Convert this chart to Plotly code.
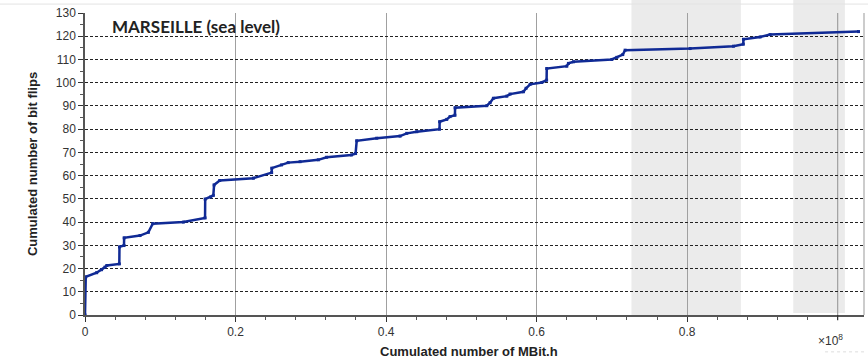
import plotly.graph_objects as go

# Cumulated MBit.h (in units of 1e8) and cumulated number of bit flips
mbit_h_e8 = [0.0, 0.001, 0.0155, 0.022, 0.0266, 0.029, 0.0456, 0.0458, 0.0518, 0.0520,
             0.0731, 0.0842, 0.090, 0.1307, 0.1595, 0.1597, 0.167, 0.1705, 0.1715, 0.179,
             0.2237, 0.248, 0.2482, 0.261, 0.270, 0.2857, 0.31, 0.321, 0.354, 0.3595,
             0.361, 0.3876, 0.4186, 0.4275, 0.4408, 0.471, 0.4712, 0.4806, 0.485, 0.4915,
             0.4917, 0.5338, 0.5382, 0.5426, 0.5604, 0.5648, 0.5825, 0.586, 0.5914, 0.6069,
             0.6133, 0.6135, 0.6401, 0.6423, 0.649, 0.6999, 0.7066, 0.7145, 0.7176, 0.804,
             0.8615, 0.8746, 0.8748, 0.897, 0.9103, 1.0277]
bit_flips = [0, 16.4, 18.2, 19.5, 20.6, 21.3, 22, 29.3, 29.9, 33.2,
             34.2, 35.6, 39.3, 40, 41.8, 49.9, 50.8, 51.5, 56, 57.9,
             58.9, 61.3, 63.2, 64.6, 65.6, 66, 66.8, 67.9, 68.9, 69.5,
             75, 76.1, 77, 78.2, 78.9, 80, 83.2, 84.2, 85.4, 86,
             89.2, 90.1, 91.4, 93.3, 94.2, 95.1, 96.1, 97.6, 99.3, 100.1,
             101.1, 106.1, 107.1, 108.3, 109, 110, 110.9, 112.1, 114, 114.7,
             115.7, 116.6, 118.7, 119.7, 120.7, 122]

# shaded periods (x in 1e8 units)
band_starts = [0.726, 0.941]
band_ends = [0.8714, 1.0096]

x_tickvals = [0, 0.2, 0.4, 0.6, 0.8]
x_ticktext = ["0", "0.2", "0.4", "0.6", "0.8"]
x_unlabeled_major = 1.0

LINE = "#102a95"

fig = go.Figure()
fig.add_trace(go.Scatter(
    x=mbit_h_e8, y=bit_flips, mode="lines+markers",
    line=dict(color=LINE, width=2.5),
    marker=dict(color=LINE, size=3, symbol="square"),
    showlegend=False, hoverinfo="skip"))

shapes = []
for i, (a, b) in enumerate(zip(band_starts, band_ends)):
    shapes.append(dict(type="rect", xref="x", yref="paper", x0=a, x1=b,
                       y0=0 if i == 0 else 0.007, y1=1.045,
                       fillcolor="#ebebeb", line=dict(width=0), layer="below"))
# unlabeled major gridline + tick at 1.0
shapes.append(dict(type="line", xref="x", yref="paper", x0=x_unlabeled_major, x1=x_unlabeled_major,
                   y0=0, y1=1, line=dict(color="#a0a0a0", width=1.2), layer="below"))
shapes.append(dict(type="line", xref="x", yref="paper", x0=x_unlabeled_major, x1=x_unlabeled_major,
                   y0=-0.017, y1=0, line=dict(color="#333333", width=1.2)))
# right border
shapes.append(dict(type="line", xref="paper", yref="paper", x0=1, x1=1, y0=0, y1=1,
                   line=dict(color="#aaaaaa", width=1.2)))
# faint top line of the page
shapes.append(dict(type="line", xref="paper", yref="paper", x0=-0.2, x1=1.01,
                   y0=1.0295, y1=1.0295, line=dict(color="#e3e3e3", width=1)))
# faint dotted line under the exponent
shapes.append(dict(type="line", xref="paper", yref="paper", x0=0.95, x1=1.0,
                   y0=-0.122, y1=-0.122, line=dict(color="#dddddd", width=1, dash="dot")))

fig.update_layout(
    width=868, height=363,
    margin=dict(l=85, r=4, t=13, b=48),
    paper_bgcolor="white", plot_bgcolor="rgba(0,0,0,0)",
    font=dict(family="Arial, Liberation Sans", size=12, color="#333333"),
    shapes=shapes,
    xaxis=dict(range=[0, 1.035], tickvals=x_tickvals, ticktext=x_ticktext,
               ticks="outside", ticklen=5, tickwidth=1.2, tickcolor="#333333",
               showgrid=True, gridcolor="#a0a0a0", gridwidth=1.2,
               showline=True, linecolor="#555555", linewidth=1.5,
               zeroline=False, tickfont=dict(size=12, color="#333333"),
               minor=dict(dtick=0.04, tick0=0, ticks="outside", ticklen=3,
                          tickcolor="#555555", showgrid=False)),
    yaxis=dict(range=[0, 130], dtick=10, tick0=0,
               ticks="outside", ticklen=5, tickwidth=1.2, tickcolor="#333333",
               showgrid=True, gridcolor="#222222", gridwidth=1, griddash="3px,2px",
               showline=True, linecolor="#555555", linewidth=1.5,
               zeroline=False, tickfont=dict(size=12, color="#333333"),
               minor=dict(dtick=5, tick0=0, ticks="outside", ticklen=3,
                          tickcolor="#555555", showgrid=False)),
    annotations=[
        dict(text="<b>MARSEILLE (sea level)</b>", xref="paper", yref="paper",
             x=0.142, y=0.955, xanchor="center", yanchor="middle", showarrow=False,
             font=dict(family="Lato, Open Sans", size=17, color="#222222")),
        dict(text="<b>Cumulated number of bit flips</b>", xref="paper", yref="paper",
             x=-0.068, y=0.5, xanchor="center", yanchor="middle", textangle=-90,
             showarrow=False, font=dict(family="Arial, Liberation Sans", size=13, color="#222222")),
        dict(text="<b>Cumulated number of MBit.h</b>", xref="paper", yref="paper",
             x=0.493, y=-0.12, xanchor="center", yanchor="middle", showarrow=False,
             font=dict(family="Arial, Liberation Sans", size=13, color="#222222")),
        dict(text="×10<sup>8</sup>", xref="paper", yref="paper",
             x=0.957, y=-0.083, xanchor="center", yanchor="middle", showarrow=False,
             font=dict(family="Arial, Liberation Sans", size=12, color="#333333")),
    ],
)

fig.write_html("out.html", config={"displayModeBar": False},
               post_script="document.body.style.margin='0';document.body.style.padding='0';")
